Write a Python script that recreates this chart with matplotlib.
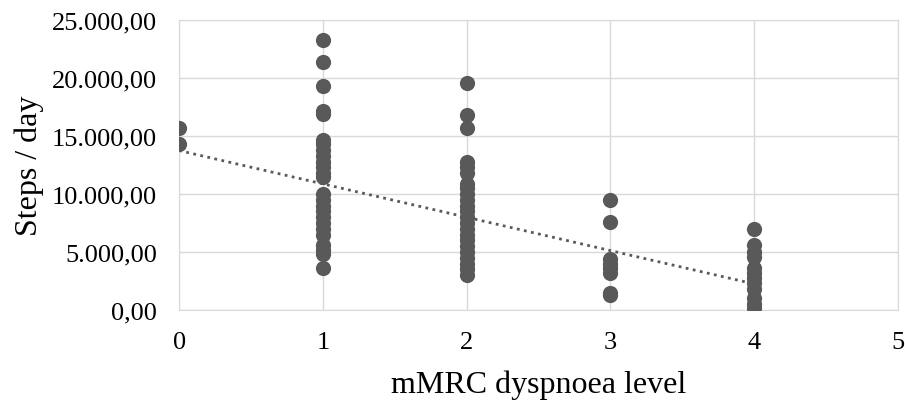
import numpy as np
import matplotlib
matplotlib.use("Agg")
import matplotlib.pyplot as plt
from matplotlib.ticker import FuncFormatter

# steps/day per mMRC dyspnoea level
lvl0 = [15700, 14300]
lvl1 = [23300, 21400, 19300, 17200, 16900, 14700, 14300, 13800, 13300, 12800,
        12300, 11800, 11500, 10000, 9500, 9000, 8500, 8000, 7500, 7000, 6500,
        5600, 5200, 4800, 3600]
lvl2 = [19600, 16800, 15700, 12800, 12300, 11800, 10900, 10500, 10000, 9500,
        9000, 8500, 8000, 7500, 7000, 6500, 6000, 5500, 5000, 4500, 4000,
        3500, 3000]
lvl3 = [9500, 7600, 4400, 4000, 3600, 3200, 1500, 1300]
lvl4 = [7000, 5600, 5000, 4600, 3600, 3200, 2800, 2300, 1800, 1000, 500, 200]
levels = [0, 1, 2, 3, 4]
groups = [lvl0, lvl1, lvl2, lvl3, lvl4]

# linear trend line as drawn in the chart
trend_x = [0, 4]
trend_y = [13750, 2250]

x = np.concatenate([[lv] * len(g) for lv, g in zip(levels, groups)]).astype(float)
y = np.concatenate(groups).astype(float)

def eu_fmt(v, pos):
    s = f"{v:,.2f}"
    return s.replace(",", "X").replace(".", ",").replace("X", ".")

plt.rcParams["font.family"] = ["Liberation Serif", "DejaVu Serif"]
fig = plt.figure(figsize=(9.05, 4.06), dpi=100)
ax = fig.add_axes([0.198, 0.234, 0.794, 0.714])

grid_c = "#d9d9d9"
dot_c = "#595959"

ax.scatter(x, y, s=120, color=dot_c, zorder=3, linewidths=0)
ax.plot(trend_x, trend_y, color=dot_c, lw=2, ls=(0, (1, 1.6)), zorder=2)

ax.set_xlim(0, 5)
ax.set_ylim(0, 25000)
ax.set_xticks(range(6))
ax.set_yticks(range(0, 25001, 5000))
ax.yaxis.set_major_formatter(FuncFormatter(eu_fmt))
ax.grid(True, color=grid_c, lw=1)
ax.set_axisbelow(True)
for sp in ax.spines.values():
    sp.set_color(grid_c)
ax.tick_params(length=0, labelsize=19, colors="black")
ax.tick_params(axis="y", pad=16)
ax.tick_params(axis="x", pad=15)
ax.set_xlabel("mMRC dyspnoea level", fontsize=23, labelpad=12)
ax.set_ylabel("Steps / day", fontsize=23, labelpad=6)

fig.savefig("out.png", dpi=100)
